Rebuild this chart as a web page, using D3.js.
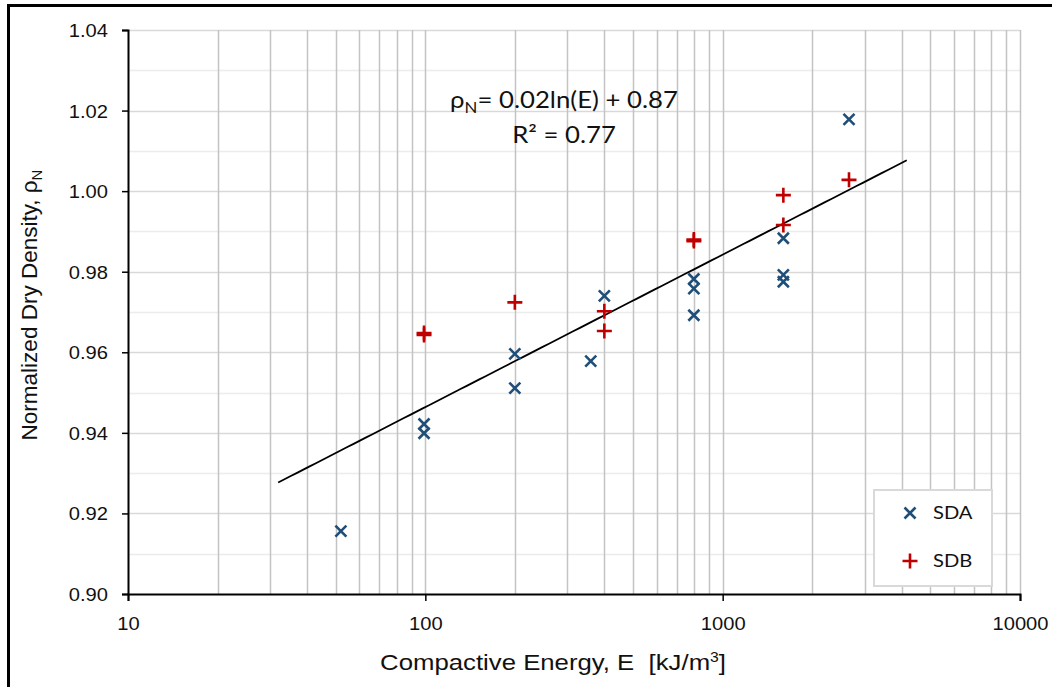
<!DOCTYPE html>
<html>
<head>
<meta charset="utf-8">
<script src="https://cdn.jsdelivr.net/npm/d3@7"></script>
<style>
  html, body { margin: 0; padding: 0; background: #fff; }
  svg { display: block; }
  text { white-space: pre; }
</style>
</head>
<body>
<svg id="chart" width="1052" height="687"></svg>
<script>
// Compaction test results: compactive energy (kJ/m³) vs normalized dry density
const sdaEnergy  = [52, 99, 99, 200, 200, 360, 400, 800, 800, 800, 1600, 1600, 1600, 2660];
const sdaDensity = [0.9156, 0.9422, 0.9399, 0.9596, 0.9511, 0.9578, 0.9740, 0.9782, 0.9758, 0.9692, 0.9883, 0.9792, 0.9775, 1.0178];
const sdbEnergy  = [99, 99, 200, 400, 400, 800, 800, 1600, 1600, 2660];
const sdbDensity = [0.9643, 0.9648, 0.9724, 0.9702, 0.9653, 0.9876, 0.9880, 0.9990, 0.9916, 1.0028];

const seriesNames = ["SDA", "SDB"];
const xTickValues = [10, 100, 1000, 10000];
const yTickValues = [0.90, 0.92, 0.94, 0.96, 0.98, 1.00, 1.02, 1.04];
// Trendline forecast (in energy units) before the first and after the last point
const trendBackward = 20;
const trendForward = 1500;

const svg = d3.select("#chart");
const W = 1052, H = 687;
const plot = { left: 128, top: 30, right: 1020, bottom: 594 };
const wide = 1.12; // horizontal widening of the lettering

const x = d3.scaleLog().domain([10, 10000]).range([plot.left, plot.right]);
const y = d3.scaleLinear().domain([0.90, 1.04]).range([plot.bottom, plot.top]);

const blue = "#1F4E79", red = "#C00000";
const sans = "'Liberation Sans', Arial, sans-serif";
const soft = "Lato, 'Open Sans', sans-serif";

// Outer frame
svg.append("rect").attr("x", 8.5).attr("y", 5.5).attr("width", W + 10).attr("height", H + 10)
  .attr("fill", "#fff").attr("stroke", "#000").attr("stroke-width", 3);

// Horizontal grid: minor (odd hundredths) and major (0.02 steps)
const yMinor = d3.range(0.91, 1.04, 0.02).map(v => +v.toFixed(2));
svg.append("g").selectAll("line").data(yMinor).join("line")
  .attr("x1", plot.left).attr("x2", plot.right)
  .attr("y1", d => Math.round(y(d)) + 0.5).attr("y2", d => Math.round(y(d)) + 0.5)
  .attr("stroke", "#ececec").attr("stroke-width", 1.5);
svg.append("g").selectAll("line").data(yTickValues.slice(1)).join("line")
  .attr("x1", plot.left).attr("x2", plot.right)
  .attr("y1", d => Math.round(y(d)) + 0.5).attr("y2", d => Math.round(y(d)) + 0.5)
  .attr("stroke", "#d9d9d9").attr("stroke-width", 1.5);

// Vertical log grid at 1..9 × each decade
const xGrid = [];
[10, 100, 1000].forEach(dec => { for (let k = 1; k <= 9; k++) xGrid.push(dec * k); });
xGrid.push(10000);
svg.append("g").selectAll("line").data(xGrid.slice(1)).join("line")
  .attr("x1", d => Math.round(x(d)) + 0.5).attr("x2", d => Math.round(x(d)) + 0.5)
  .attr("y1", plot.top).attr("y2", plot.bottom)
  .attr("stroke", "#c3c3c3").attr("stroke-width", 1.5);

// Axes
const yAxis = d3.axisLeft(y).tickValues(yTickValues).tickSize(6).tickFormat(d3.format(".2f"));
const gy = svg.append("g").attr("transform", `translate(${plot.left},0)`).call(yAxis);
gy.select(".domain").attr("stroke", "#000").attr("stroke-width", 2);
gy.selectAll(".tick line").attr("stroke", "#000").attr("stroke-width", 1.5);
gy.selectAll(".tick text").attr("x", -20 / wide).attr("dy", "0.36em").attr("transform", `scale(${wide},1)`)
  .style("font-family", sans).style("font-size", "18px").attr("fill", "#111");

const xAxis = d3.axisBottom(x).tickValues(xTickValues).tickSize(7).tickFormat(d3.format("d"));
const gx = svg.append("g").attr("transform", `translate(0,${plot.bottom})`).call(xAxis);
gx.select(".domain").attr("stroke", "#000").attr("stroke-width", 2);
gx.selectAll(".tick line").attr("stroke", "#000").attr("stroke-width", 1.5);
gx.selectAll(".tick text").attr("y", 23).attr("dy", "0.71em").attr("transform", `scale(${wide},1)`)
  .style("font-family", sans).style("font-size", "18px").attr("fill", "#111");

// Logarithmic least-squares fit over all points: ρ = a·ln(E) + b
const allE = sdaEnergy.concat(sdbEnergy);
const allR = sdaDensity.concat(sdbDensity);
const lx = allE.map(Math.log);
const mx = d3.mean(lx), my = d3.mean(allR);
let sxy = 0, sxx = 0, syy = 0;
lx.forEach((v, i) => { sxy += (v - mx) * (allR[i] - my); sxx += (v - mx) ** 2; syy += (allR[i] - my) ** 2; });
const slope = sxy / sxx;
const intercept = my - slope * mx;
const r2 = (sxy * sxy) / (sxx * syy);

const eFrom = d3.min(allE) - trendBackward, eTo = d3.max(allE) + trendForward;
const trendPts = d3.range(0, 101).map(i => {
  const e = Math.exp(Math.log(eFrom) + (Math.log(eTo) - Math.log(eFrom)) * i / 100);
  return [e, slope * Math.log(e) + intercept];
});
svg.append("path").datum(trendPts)
  .attr("d", d3.line().x(d => x(d[0])).y(d => y(d[1])))
  .attr("fill", "none").attr("stroke", "#000").attr("stroke-width", 1.8);

// Markers
function crossPath(s) { return `M${-s},${-s}L${s},${s}M${-s},${s}L${s},${-s}`; }
function plusPath(s) { return `M${-s},0L${s},0M0,${-s}L0,${s}`; }
const crossSize = 5.5, plusSize = 7.5, markStroke = 2.6;

svg.append("g").selectAll("path").data(sdbEnergy.map((e, i) => [e, sdbDensity[i]])).join("path")
  .attr("transform", d => `translate(${x(d[0])},${y(d[1])})`)
  .attr("d", plusPath(plusSize)).attr("stroke", red).attr("stroke-width", markStroke).attr("fill", "none");
svg.append("g").selectAll("path").data(sdaEnergy.map((e, i) => [e, sdaDensity[i]])).join("path")
  .attr("transform", d => `translate(${x(d[0])},${y(d[1])})`)
  .attr("d", crossPath(crossSize)).attr("stroke", blue).attr("stroke-width", markStroke).attr("fill", "none");

// Fit equation
const eq = svg.append("text").attr("transform", `translate(564,108) scale(${wide},1)`).attr("text-anchor", "middle")
  .style("font-family", soft).style("font-size", "23px").attr("fill", "#111");
eq.append("tspan").text("ρ");
eq.append("tspan").text("N").attr("dy", 5).style("font-size", "15px");
eq.append("tspan").text(`= ${slope.toFixed(2)}ln(E) + ${intercept.toFixed(2)}`).attr("dy", -5);
svg.append("text").attr("transform", `translate(564,143) scale(${wide},1)`).attr("text-anchor", "middle")
  .style("font-family", soft).style("font-size", "23px").attr("fill", "#111")
  .text(`R² = ${r2.toFixed(2)}`);

// Legend
const lg = svg.append("g");
lg.append("rect").attr("x", 874).attr("y", 490).attr("width", 118).attr("height", 96)
  .attr("fill", "#fff").attr("stroke", "#d9d9d9").attr("stroke-width", 2);
const legendItems = [
  { name: seriesNames[0], color: blue, d: crossPath(crossSize), cy: 513 },
  { name: seriesNames[1], color: red, d: plusPath(plusSize), cy: 561 }
];
legendItems.forEach(it => {
  lg.append("path").attr("transform", `translate(910,${it.cy})`).attr("d", it.d)
    .attr("stroke", it.color).attr("stroke-width", markStroke).attr("fill", "none");
  lg.append("text").attr("transform", `translate(933,${it.cy}) scale(${wide},1)`).attr("dy", "0.36em")
    .style("font-family", soft).style("font-size", "18px").attr("fill", "#111")
    .text(it.name);
});

// Axis titles
const xt = svg.append("text").attr("transform", `translate(553,670) scale(${wide},1)`).attr("text-anchor", "middle")
  .style("font-family", sans).style("font-size", "23px").attr("fill", "#111");
xt.append("tspan").text("Compactive Energy, E  [kJ/m");
xt.append("tspan").text("3").attr("dy", -8).style("font-size", "14px");
xt.append("tspan").text("]").attr("dy", 8);

const yt = svg.append("text").attr("transform", "translate(37,305) rotate(-90)").attr("text-anchor", "middle")
  .style("font-family", sans).style("font-size", "22.5px").attr("fill", "#111");
yt.append("tspan").text("Normalized Dry Density, ρ");
yt.append("tspan").text("N").attr("dy", 5).style("font-size", "15px");
</script>
</body>
</html>
